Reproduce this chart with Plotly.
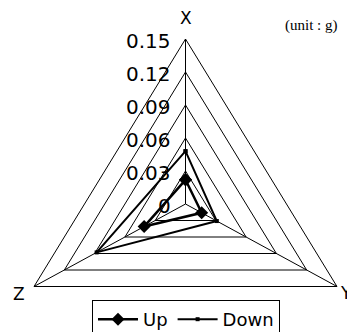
import numpy as np
import plotly.graph_objects as go

# ---- data ----
categories = ["X", "Y", "Z"]
up_values = [0.022, 0.016, 0.041]
down_values = [0.048, 0.031, 0.088]
tick_values = [0, 0.03, 0.06, 0.09, 0.12, 0.15]
tick_labels = ["0", "0.03", "0.06", "0.09", "0.12", "0.15"]
unit_text = "(unit : g)"

# ---- radar geometry: X on top, Y lower right, Z lower left (clockwise) ----
angles = np.deg2rad([90.0, -30.0, 210.0])
r_max = max(tick_values)


def to_xy(values, close=True):
    v = np.asarray(values, dtype=float)
    x = v * np.cos(angles)
    y = v * np.sin(angles)
    if close:
        x = np.append(x, x[0])
        y = np.append(y, y[0])
    return x, y


fig = go.Figure()

# grid triangles (one per tick level)
for lv in tick_values[1:]:
    gx, gy = to_xy([lv] * len(categories))
    fig.add_trace(go.Scatter(x=gx, y=gy, mode="lines",
                             line=dict(color="black", width=1),
                             hoverinfo="skip", showlegend=False))

# spokes from centre to each category vertex
vx, vy = to_xy([r_max] * len(categories), close=False)
for i, cat in enumerate(categories):
    fig.add_trace(go.Scatter(x=[0, vx[i]], y=[0, vy[i]], mode="lines",
                             line=dict(color="black", width=1),
                             hoverinfo="skip", showlegend=False))

# data series
ux, uy = to_xy(up_values)
fig.add_trace(go.Scatter(x=ux, y=uy, name="Up", mode="lines+markers",
                         line=dict(color="black", width=2.5),
                         marker=dict(symbol="diamond", size=10, color="black")))
dx, dy = to_xy(down_values)
fig.add_trace(go.Scatter(x=dx, y=dy, name="Down", mode="lines+markers",
                         line=dict(color="black", width=2),
                         marker=dict(symbol="square", size=4, color="black")))

annotations = []
# radial tick labels along the X spoke
for tv, tl in zip(tick_values, tick_labels):
    annotations.append(dict(x=0, y=tv, xref="x", yref="y", text=tl,
                            showarrow=False, xanchor="right", yanchor="middle",
                            xshift=-13, yshift=-2,
                            font=dict(family="DejaVu Sans", size=20, color="black")))

# category labels at the vertices
cat_shifts = [(0, 21), (9, -6), (-15, -7)]
for i, cat in enumerate(categories):
    annotations.append(dict(x=vx[i], y=vy[i], xref="x", yref="y", text=cat,
                            showarrow=False, xanchor="center", yanchor="middle",
                            xshift=cat_shifts[i][0], yshift=cat_shifts[i][1],
                            font=dict(family="DejaVu Sans", size=17, color="black")))

annotations.append(dict(x=0.935, y=0.946, xref="paper", yref="paper", text=unit_text,
                        showarrow=False, xanchor="right", yanchor="middle",
                        font=dict(family="Liberation Serif", size=15, color="black")))

fig.update_layout(
    width=355, height=332,
    margin=dict(l=0, r=0, t=0, b=0, autoexpand=False),
    paper_bgcolor="white", plot_bgcolor="white",
    xaxis=dict(visible=False, range=[-0.15223, 0.15223], fixedrange=True),
    yaxis=dict(visible=False, range=[-0.12364, 0.17818], fixedrange=True),
    annotations=annotations,
    legend=dict(orientation="h", x=0.2366, y=0.1205, xanchor="left", yanchor="top",
                bordercolor="black", borderwidth=1, bgcolor="white",
                itemwidth=40,
                font=dict(family="DejaVu Sans", size=18, color="black")),
    showlegend=True,
)

fig.write_html("out.html")
